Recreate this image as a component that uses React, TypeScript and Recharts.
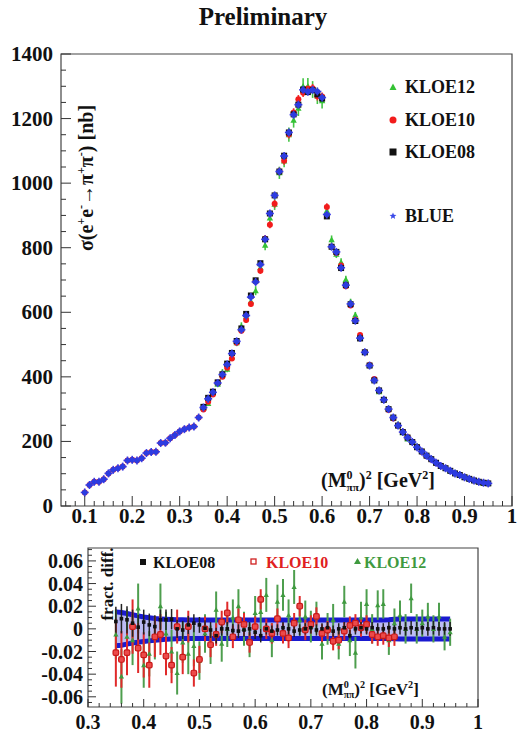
import React from "react";
import { ScatterChart, ComposedChart, Scatter, Area, XAxis, YAxis, ErrorBar, ReferenceArea } from "recharts";

const FONT = "'Liberation Serif', 'Times New Roman', Times, serif";

// ---- top panel: sigma(e+e- -> pi+pi-) [nb] vs (M0_pipi)^2 [GeV^2] ----
const massBlue = [
  0.10, 0.11, 0.12, 0.13, 0.14, 0.15, 0.16, 0.17, 0.18, 0.19,
  0.20, 0.21, 0.22, 0.23, 0.24, 0.25, 0.26, 0.27, 0.28, 0.29,
  0.30, 0.31, 0.32, 0.33, 0.34, 0.35, 0.36, 0.37, 0.38, 0.39,
  0.40, 0.41, 0.42, 0.43, 0.44, 0.45, 0.46, 0.47, 0.48, 0.49,
  0.50, 0.51, 0.52, 0.53, 0.54, 0.55, 0.56, 0.57, 0.58, 0.59,
  0.60, 0.61, 0.62, 0.63, 0.64, 0.65, 0.66, 0.67, 0.68, 0.69,
  0.70, 0.71, 0.72, 0.73, 0.74, 0.75, 0.76, 0.77, 0.78, 0.79,
  0.80, 0.81, 0.82, 0.83, 0.84, 0.85, 0.86, 0.87, 0.88, 0.89,
  0.90, 0.91, 0.92, 0.93, 0.94, 0.95,
];
const sigmaBlue = [
  42, 65, 75, 75, 83, 101, 112, 117, 122, 141,
  143, 141, 148, 164, 167, 168, 195, 196, 210, 220,
  231, 238, 243, 246, 274, 305, 332, 352, 381, 407,
  438, 472, 510, 546, 590, 647, 694, 748, 826, 906,
  962, 1036, 1084, 1157, 1212, 1243, 1289, 1283, 1289, 1284,
  1265, 903, 803, 787, 738, 684, 626, 574, 520, 476,
  435, 389, 358, 329, 300, 274, 249, 229, 212, 198,
  182, 169, 156, 145, 134, 124, 117, 109, 101, 96,
  89, 84, 79, 75, 72, 70,
];
const massKloe = [
  0.35, 0.36, 0.37, 0.38, 0.39,
  0.40, 0.41, 0.42, 0.43, 0.44, 0.45, 0.46, 0.47, 0.48, 0.49,
  0.50, 0.51, 0.52, 0.53, 0.54, 0.55, 0.56, 0.57, 0.58, 0.59,
  0.60, 0.61, 0.62, 0.63, 0.64, 0.65, 0.66, 0.67, 0.68, 0.69,
  0.70, 0.71, 0.72, 0.73, 0.74, 0.75, 0.76, 0.77, 0.78, 0.79,
  0.80, 0.81, 0.82, 0.83, 0.84, 0.85, 0.86, 0.87, 0.88, 0.89,
  0.90, 0.91, 0.92, 0.93, 0.94, 0.95,
];
const sigmaKloe08 = [
  307, 335, 354, 383, 408,
  441, 474, 511, 550, 595, 652, 699, 752, 826, 906,
  962, 1036, 1085, 1157, 1213, 1243, 1290, 1282, 1288, 1275,
  1262, 897, 803, 787, 737, 684, 625, 573, 519, 476,
  435, 389, 358, 329, 300, 274, 249, 229, 212, 198,
  182, 169, 156, 145, 134, 124, 117, 109, 101, 96,
  89, 84, 79, 75, 72, 70,
];
const sigmaKloe12 = [
  303, 318, 350, 377, 414,
  424, 462, 506, 557, 588, 634, 667, 739, 808, 892,
  935, 1032, 1069, 1150, 1195, 1232, 1300, 1300, 1290, 1270,
  1255, 915, 825, 780, 755, 702, 632, 592, 524, 478,
  436, 392, 354, 329, 302, 271, 254, 227, 208, 200,
  186, 169, 159, 148, 133, 125, 118, 109, 104, 96,
  89, 85, 79, 76, 71, 70,
];
const errKloe12 = [
  8, 8, 9, 9, 10,
  10, 11, 11, 12, 12, 13, 14, 15, 16, 17,
  18, 19, 20, 22, 23, 24, 25, 26, 26, 25,
  24, 14, 13, 12, 12, 11, 10, 9, 9, 8,
  7, 7, 6, 6, 5, 5, 5, 4, 4, 4,
  4, 3, 3, 3, 3, 3, 3, 3, 3, 2,
  2, 2, 2, 2, 2, 2,
];
const massKloe10 = massBlue.slice(0, 76);
const sigmaKloe10 = [
  42, 65, 75, 75, 83, 101, 112, 117, 122, 141,
  143, 141, 148, 164, 167, 168, 195, 196, 210, 220,
  231, 238, 243, 246, 274, 299, 323, 345, 382, 400,
  428, 457, 506, 543, 576, 626, 695, 729, 828, 871,
  936, 1036, 1069, 1151, 1219, 1260, 1280, 1293, 1294, 1269,
  1268, 926, 803, 784, 745, 681, 621, 577, 530, 476,
  437, 393, 357, 329, 297, 271, 249, 230, 213, 198,
  183, 168, 155, 144, 133, 123,
];
const errKloe10 = [
  8, 8, 7, 7, 7, 7, 7, 7, 7, 7,
  7, 7, 7, 7, 7, 7, 7, 7, 7, 7,
  7, 7, 7, 7, 7, 6, 6, 6, 7, 7,
  7, 8, 8, 8, 9, 9, 10, 10, 11, 11,
  12, 12, 12, 13, 13, 13, 13, 13, 13, 13,
  13, 12, 10, 9, 9, 8, 8, 7, 7, 6,
  6, 6, 5, 5, 5, 5, 4, 4, 4, 4,
  3, 3, 3, 3, 3, 3,
];

// ---- bottom panel: fractional difference w.r.t. BLUE ----
const diffKloe08 = [
  0.0065, 0.009, 0.008, 0.005, 0.0015,
  0.006, 0.0035, 0.002, 0.008, 0.008, 0.0085, 0.0, -0.001, 0.0035, 0.005,
  0.0035, 0.0005, -0.001, -0.006, 0.0, 0.0, -0.0015, -0.002, -0.001, 0.0,
  -0.003, -0.006, 0.0, -0.002, -0.001, 0.001, 0.0, -0.002, -0.001, 0.0,
  0.001, -0.001, 0.0, 0.001, -0.002, 0.0, 0.001, -0.006, 0.0, 0.001,
  0.0, 0.001, 0.0, 0.0, 0.001, 0.0, 0.001, 0.0, 0.001, 0.0,
  0.001, 0.0, 0.001, 0.0, 0.0, 0.0,
];
const errDiffKloe08 = [
  0.013, 0.013, 0.012, 0.012, 0.011,
  0.011, 0.010, 0.010, 0.009, 0.009, 0.009, 0.008, 0.008, 0.008, 0.008,
  0.007, 0.007, 0.007, 0.007, 0.006, 0.006, 0.006, 0.006, 0.006, 0.006,
  0.006, 0.006, 0.005, 0.005, 0.005, 0.005, 0.005, 0.005, 0.005, 0.005,
  0.005, 0.005, 0.005, 0.005, 0.005, 0.005, 0.005, 0.005, 0.005, 0.005,
  0.005, 0.005, 0.005, 0.005, 0.005, 0.006, 0.006, 0.006, 0.006, 0.006,
  0.006, 0.006, 0.006, 0.006, 0.006, 0.006,
];
const massDiff10 = massKloe.slice(0, 51);
const diffKloe10 = [
  -0.021, -0.027, -0.021, 0.002, -0.017,
  -0.023, -0.032, -0.007, -0.005, -0.024, -0.032, 0.002, -0.025, 0.002, -0.039,
  -0.027, 0.0, -0.014, -0.005, 0.006, 0.014, -0.007, 0.008, 0.004, -0.012,
  0.002, 0.026, 0.0, -0.004, 0.009, -0.004, -0.008, 0.005, 0.020, -0.001,
  0.004, 0.011, -0.004, -0.001, -0.011, -0.010, -0.002, 0.003, 0.005, 0.001,
  0.004, -0.005, -0.007, -0.006, -0.008, -0.007,
];
const errDiffKloe10 = [
  0.030, 0.025, 0.020, 0.024, 0.022,
  0.020, 0.020, 0.018, 0.018, 0.017, 0.016, 0.015, 0.015, 0.014, 0.012,
  0.012, 0.011, 0.011, 0.010, 0.010, 0.010, 0.010, 0.010, 0.010, 0.009,
  0.009, 0.009, 0.009, 0.009, 0.009, 0.009, 0.009, 0.009, 0.009, 0.009,
  0.008, 0.008, 0.008, 0.008, 0.008, 0.008, 0.008, 0.008, 0.008, 0.008,
  0.008, 0.008, 0.008, 0.008, 0.008, 0.008,
];
const diffKloe12 = [
  -0.005, -0.042, -0.007, -0.010, 0.018,
  -0.032, -0.022, -0.008, 0.020, -0.004, -0.020, -0.039, -0.012, -0.022, -0.015,
  -0.028, -0.004, -0.014, 0.017, -0.013, 0.0, 0.010, 0.020, 0.0, -0.010,
  0.014, 0.015, 0.030, -0.010, 0.024, 0.030, 0.012, 0.037, 0.008, 0.011,
  0.002, 0.010, -0.013, 0.0, 0.008, -0.013, 0.024, -0.010, -0.021, 0.010,
  0.022, 0.0, 0.021, 0.022, -0.010, 0.005, 0.012, 0.0, 0.027, 0.0,
  0.005, 0.011, 0.0, 0.011, -0.007, -0.003,
];
const errDiffKloe12 = [
  0.022, 0.024, 0.024, 0.022, 0.022,
  0.020, 0.020, 0.019, 0.020, 0.019, 0.019, 0.019, 0.018, 0.018, 0.018,
  0.017, 0.017, 0.017, 0.016, 0.016, 0.016, 0.016, 0.015, 0.015, 0.015,
  0.015, 0.015, 0.015, 0.015, 0.015, 0.014, 0.014, 0.015, 0.014, 0.014,
  0.014, 0.014, 0.014, 0.014, 0.014, 0.014, 0.014, 0.014, 0.014, 0.014,
  0.013, 0.013, 0.013, 0.013, 0.013, 0.013, 0.013, 0.013, 0.013, 0.013,
  0.012, 0.012, 0.012, 0.012, 0.012, 0.012,
];
const bandUp = [
  0.0150, 0.0145, 0.0135, 0.0125, 0.0115,
  0.0105, 0.0098, 0.0092, 0.0088, 0.0085, 0.0082, 0.0080, 0.0080, 0.0078, 0.0078,
  0.0078, 0.0078, 0.0078, 0.0078, 0.0078, 0.0078, 0.0078, 0.0078, 0.0078, 0.0078,
  0.0078, 0.0078, 0.0078, 0.0078, 0.0078, 0.0078, 0.0078, 0.0078, 0.0078, 0.0078,
  0.0078, 0.0078, 0.0078, 0.0078, 0.0078, 0.0078, 0.0078, 0.0078, 0.0078, 0.0078,
  0.0078, 0.0078, 0.0078, 0.0078, 0.0080, 0.0085, 0.0088, 0.0088, 0.0088, 0.0088,
  0.0088, 0.0088, 0.0088, 0.0088, 0.0088, 0.0088,
];
const bandDown = [
  -0.0150, -0.0145, -0.0135, -0.0125, -0.0118,
  -0.0112, -0.0106, -0.0100, -0.0096, -0.0092, -0.0090, -0.0088, -0.0086, -0.0085, -0.0085,
  -0.0085, -0.0085, -0.0085, -0.0085, -0.0085, -0.0085, -0.0085, -0.0085, -0.0085, -0.0085,
  -0.0085, -0.0085, -0.0085, -0.0085, -0.0085, -0.0085, -0.0085, -0.0085, -0.0085, -0.0085,
  -0.0085, -0.0085, -0.0085, -0.0085, -0.0085, -0.0085, -0.0085, -0.0085, -0.0085, -0.0085,
  -0.0085, -0.0085, -0.0085, -0.0085, -0.0086, -0.0088, -0.0090, -0.0090, -0.0090, -0.0090,
  -0.0090, -0.0090, -0.0090, -0.0090, -0.0090, -0.0090,
];

// axis tick labels
const topXMajor = [0.1, 0.2, 0.3, 0.4, 0.5, 0.6, 0.7, 0.8, 0.9, 1.0];
const topYMajor = [0, 200, 400, 600, 800, 1000, 1200, 1400];
const botXMajor = [0.3, 0.4, 0.5, 0.6, 0.7, 0.8, 0.9, 1.0];
const botYMajor = [-0.06, -0.04, -0.02, 0, 0.02, 0.04, 0.06];

const steps = (lo: number, hi: number, step: number) => {
  const out: number[] = [];
  for (let v = lo; v <= hi + 1e-9; v += step) out.push(+v.toFixed(4));
  return out;
};

const rows = (xs: number[], ys: number[], es?: number[]) =>
  xs.map((m, i) => ({ m, v: ys[i], e: es ? es[i] : 0 }));

const blueRows = rows(massBlue, sigmaBlue);
const k08Rows = rows(massKloe, sigmaKloe08);
const k10Rows = rows(massKloe10, sigmaKloe10, errKloe10);
const k12Rows = rows(massKloe, sigmaKloe12, errKloe12);

const d08Rows = rows(massKloe, diffKloe08, errDiffKloe08);
const d10Rows = rows(massDiff10, diffKloe10, errDiffKloe10);
const d12Rows = rows(massKloe, diffKloe12, errDiffKloe12);
const bandRows = massKloe.map((m, i) => ({ m, band: [bandDown[i], bandUp[i]] }));

const isMajor = (majors: number[], v: number) => majors.some((t) => Math.abs(t - v) < 1e-6);

const makeXTick = (majors: number[], len: number, fs: number, dy: number) => (props: any) => {
  const { x, y, payload } = props;
  const major = isMajor(majors, payload.value);
  const v = payload.value;
  return (
    <g>
      <line x1={x} x2={x} y1={y} y2={y - (major ? len : len / 2)} stroke="#333" />
      {major && (
        <text x={x} y={y + dy} textAnchor="middle" fontFamily={FONT} fontWeight="bold" fontSize={fs} fill="#111">
          {Math.abs(v - 1) < 1e-6 ? "1" : v.toFixed(1)}
        </text>
      )}
    </g>
  );
};

const makeYTick = (majors: number[], len: number, fs: number, dx: number, fmt: (v: number) => string) => (props: any) => {
  const { x, y, payload } = props;
  const major = isMajor(majors, payload.value);
  return (
    <g>
      <line x1={x} x2={x + (major ? len : len / 2)} y1={y} y2={y} stroke="#333" />
      {major && (
        <text x={x - dx} y={y} textAnchor="end" dominantBaseline="central" fontFamily={FONT} fontWeight="bold" fontSize={fs} fill="#111">
          {fmt(payload.value)}
        </text>
      )}
    </g>
  );
};

// marker shapes
const tri = (color: string, s: number) => (p: any) => (
  <path d={`M${p.cx},${p.cy - s}L${p.cx + s},${p.cy + s * 0.8}L${p.cx - s},${p.cy + s * 0.8}Z`} fill={color} />
);
const dot = (color: string, r: number) => (p: any) => <circle cx={p.cx} cy={p.cy} r={r} fill={color} />;
const sq = (fill: string, s: number, stroke = "none", rx = 0) => (p: any) => (
  <rect x={p.cx - s} y={p.cy - s} width={2 * s} height={2 * s} rx={rx} fill={fill} stroke={stroke} strokeWidth={1.2} />
);
const blueMark = (p: any) => (
  <g>
    <line x1={p.cx - 4} x2={p.cx + 4} y1={p.cy} y2={p.cy} stroke="#3a3ae6" strokeWidth={1.6} />
    <line x1={p.cx} x2={p.cx} y1={p.cy - 4} y2={p.cy + 4} stroke="#3a3ae6" strokeWidth={1.6} />
    <circle cx={p.cx} cy={p.cy} r={2.8} fill="#2c3ce0" />
  </g>
);

const starPoints = (cx: number, cy: number, r: number) => {
  const pts: string[] = [];
  for (let i = 0; i < 10; i++) {
    const a = -Math.PI / 2 + (i * Math.PI) / 5;
    const rr = i % 2 === 0 ? r : r * 0.45;
    pts.push(`${cx + rr * Math.cos(a)},${cy + rr * Math.sin(a)}`);
  }
  return pts.join(" ");
};

const Sup = ({ children, fs = 12 }: { children: React.ReactNode; fs?: number }) => (
  <tspan fontSize={fs} dy={-8}>{children}</tspan>
);

const MassLabel = ({ x, y, fs }: { x: number; y: number; fs: number }) => {
  const s = fs * 0.6;
  return (
    <text x={x} y={y} fontFamily={FONT} fontWeight="bold" fontSize={fs} fill="#111">
      <tspan>(M</tspan>
      <tspan fontSize={s} dy={-fs * 0.42}>0</tspan>
      <tspan fontSize={s * 0.95} dx={-s * 0.5} dy={fs * 0.62}>ππ</tspan>
      <tspan dy={-fs * 0.2}>)</tspan>
      <tspan fontSize={s} dy={-fs * 0.42}>2</tspan>
      <tspan dy={fs * 0.42}> [GeV</tspan>
      <tspan fontSize={s} dy={-fs * 0.42}>2</tspan>
      <tspan dy={fs * 0.42}>]</tspan>
    </text>
  );
};

const TopPanel = () => (
  <ScatterChart width={517} height={540} margin={{ top: 54, right: 5, bottom: 0, left: 0 }}>
    <XAxis
      type="number"
      dataKey="m"
      domain={[0.05, 1.0]}
      ticks={steps(0.06, 1.0, 0.02)}
      interval={0}
      height={34}
      tickSize={0}
      tickMargin={0}
      axisLine={false}
      tickLine={false}
      allowDataOverflow
      tick={makeXTick(topXMajor, 10, 21, 17)}
    />
    <YAxis
      type="number"
      dataKey="v"
      domain={[0, 1400]}
      ticks={steps(0, 1400, 50)}
      interval={0}
      width={61}
      tickSize={0}
      tickMargin={0}
      axisLine={false}
      tickLine={false}
      allowDataOverflow
      tick={makeYTick(topYMajor, 10, 21, 8, (v) => String(v))}
    />
    <ReferenceArea x1={0.05} x2={1.0} y1={0} y2={1400} fill="none" stroke="#444" strokeWidth={1.2} />
    <Scatter data={k12Rows} shape={tri("#34c234", 3.2)} isAnimationActive={false}>
      <ErrorBar dataKey="e" direction="y" width={0} stroke="#44c444" strokeWidth={1.6} />
    </Scatter>
    <Scatter data={k10Rows} shape={dot("#f21c1c", 3)} isAnimationActive={false}>
      <ErrorBar dataKey="e" direction="y" width={0} stroke="#f03030" strokeWidth={1.6} />
    </Scatter>
    <Scatter data={k08Rows} shape={sq("#111111", 3)} isAnimationActive={false} />
    <Scatter data={blueRows} shape={blueMark} isAnimationActive={false} />
  </ScatterChart>
);

const BottomPanel = () => (
  <ComposedChart width={517} height={205} data={bandRows} margin={{ top: 18, right: 39, bottom: 0, left: 0 }}>
    <XAxis
      type="number"
      dataKey="m"
      domain={[0.3, 1.0]}
      ticks={steps(0.3, 1.0, 0.02)}
      interval={0}
      height={28}
      tickSize={0}
      tickMargin={0}
      axisLine={false}
      tickLine={false}
      allowDataOverflow
      tick={makeXTick(botXMajor, 8, 20, 22)}
    />
    <YAxis
      type="number"
      dataKey="v"
      domain={[-0.069, 0.0714]}
      ticks={steps(-0.065, 0.07, 0.005)}
      interval={0}
      width={88}
      tickSize={0}
      tickMargin={0}
      axisLine={false}
      tickLine={false}
      allowDataOverflow
      tick={makeYTick(botYMajor, 8, 20, 5, (v) => (Math.abs(v) < 1e-9 ? "0" : v.toFixed(2)))}
    />
    <ReferenceArea x1={0.3} x2={1.0} y1={-0.069} y2={0.0714} fill="none" stroke="#444" strokeWidth={1.2} />
    <Area
      type="linear"
      dataKey="band"
      stroke="#1a1ad0"
      strokeWidth={5}
      fill="#bcbcf4"
      fillOpacity={1}
      dot={false}
      activeDot={false}
      isAnimationActive={false}
    />
    <Scatter data={d12Rows} shape={tri("#3f9a3f", 2.6)} isAnimationActive={false}>
      <ErrorBar dataKey="e" direction="y" width={0} stroke="#4e9e4e" strokeWidth={2} />
    </Scatter>
    <Scatter data={d10Rows} shape={sq("#ec4a4a", 2.8, "#c81818", 1.5)} isAnimationActive={false}>
      <ErrorBar dataKey="e" direction="y" width={0} stroke="#e02a2a" strokeWidth={2} />
    </Scatter>
    <Scatter data={d08Rows} shape={sq("#111111", 1.8)} isAnimationActive={false}>
      <ErrorBar dataKey="e" direction="y" width={0} stroke="#222222" strokeWidth={1.5} />
    </Scatter>
  </ComposedChart>
);

const Overlay = () => (
  <svg width={517} height={735} style={{ position: "absolute", left: 0, top: 0, pointerEvents: "none" }}>
    <text x={263} y={25} textAnchor="middle" fontFamily={FONT} fontWeight="bold" fontSize={25} fill="#111">
      Preliminary
    </text>

    {/* top y label */}
    <g transform="translate(93 178) rotate(-90)">
      <text x={0} y={0} textAnchor="middle" fontFamily={FONT} fontWeight="bold" fontSize={20} fill="#111">
        <tspan>σ(e</tspan>
        <Sup>+</Sup>
        <tspan dy={8}>e</tspan>
        <Sup>-</Sup>
        <tspan dy={8}>→π</tspan>
        <Sup>+</Sup>
        <tspan dy={8}>π</tspan>
        <Sup>-</Sup>
        <tspan dy={8}>) [nb]</tspan>
      </text>
    </g>

    <MassLabel x={321} y={487} fs={20} />

    {/* top legend */}
    <path d="M393,83.5L396.5,90L389.5,90Z" fill="#34c234" />
    <text x={405} y={93} fontFamily={FONT} fontWeight="bold" fontSize={18} fill="#111">KLOE12</text>
    <circle cx={393} cy={120} r={3.5} fill="#f21c1c" />
    <text x={405} y={126} fontFamily={FONT} fontWeight="bold" fontSize={18} fill="#111">KLOE10</text>
    <rect x={389.5} y={148.5} width={7} height={7} fill="#111" />
    <text x={405} y={158} fontFamily={FONT} fontWeight="bold" fontSize={18} fill="#111">KLOE08</text>
    <polygon points={starPoints(393, 216, 3.6)} fill="#3a4ae8" />
    <text x={405} y={222} fontFamily={FONT} fontWeight="bold" fontSize={18} fill="#111">BLUE</text>

    {/* bottom legend */}
    <rect x={140} y={559} width={6} height={6} fill="#111" />
    <text x={153} y={568} fontFamily={FONT} fontWeight="bold" fontSize={16} fill="#111">KLOE08</text>
    <rect x={251} y={559} width={5} height={5} fill="#fff" stroke="#d02020" strokeWidth={1.3} />
    <text x={266} y={568} fontFamily={FONT} fontWeight="bold" fontSize={16} fill="#e02020">KLOE10</text>
    <path d="M357.5,558L361,564L354,564Z" fill="#3f9a3f" />
    <text x={364} y={568} fontFamily={FONT} fontWeight="bold" fontSize={16} fill="#3f9a3f">KLOE12</text>

    <g transform="translate(113 584) rotate(-90)">
      <text x={0} y={0} textAnchor="middle" fontFamily={FONT} fontWeight="bold" fontSize={17} fill="#111">
        fract. diff.
      </text>
    </g>
    <MassLabel x={322} y={695} fs={17} />
  </svg>
);

export default function App() {
  return (
    <div style={{ position: "absolute", left: 0, top: 0, width: 517, height: 735, background: "#fff" }}>
      <div style={{ position: "absolute", left: 0, top: 0 }}>
        <TopPanel />
      </div>
      <div style={{ position: "absolute", left: 0, top: 530 }}>
        <BottomPanel />
      </div>
      <Overlay />
    </div>
  );
}
